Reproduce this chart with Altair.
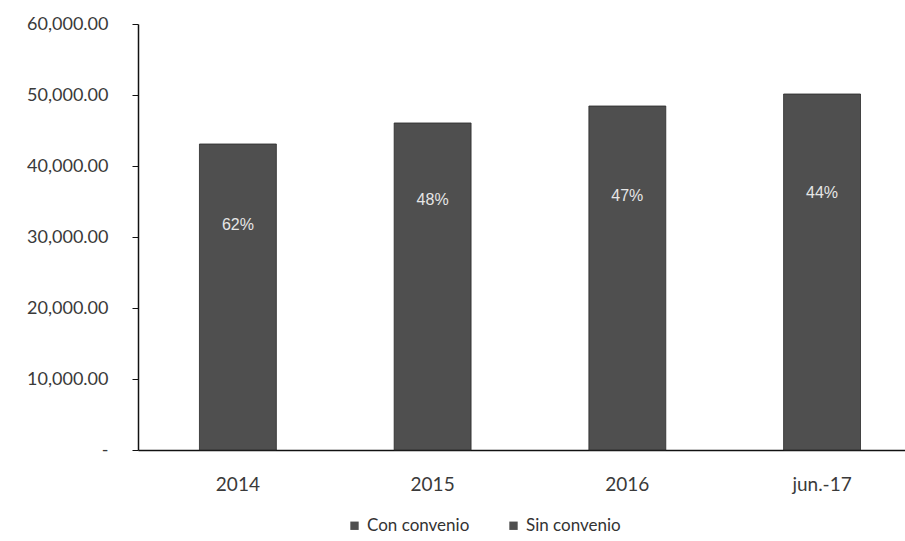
import altair as alt
import pandas as pd

years = ["2014", "2015", "2016", "jun.-17"]
con_convenio = [20280, 24360, 23090, 22260]
sin_convenio = [22820, 21700, 25360, 27880]
pct_labels = ["62%", "48%", "47%", "44%"]
series = ["Con convenio", "Sin convenio"]

rows = []
for i, y in enumerate(years):
    rows.append({"year": y, "serie": series[0], "value": con_convenio[i], "order": 0})
    rows.append({"year": y, "serie": series[1], "value": sin_convenio[i], "order": 1})
df = pd.DataFrame(rows)

lab = pd.DataFrame({
    "year": years,
    "label": pct_labels,
    "pos": [c + s / 2 for c, s in zip(con_convenio, sin_convenio)],
})

FONT = "Lato"

xscale = alt.Scale(domain=years, paddingInner=0.605, paddingOuter=0.272, align=0.58)
yscale = alt.Scale(domain=[0, 60000], nice=False)

bars = alt.Chart(df).mark_bar(strokeWidth=0).encode(
    x=alt.X("year:N", scale=xscale, sort=years,
            axis=alt.Axis(title=None, labelAngle=0, ticks=False, domainColor="#111",
                          domainWidth=1.5, labelFont=FONT, labelFontSize=19,
                          labelFontWeight="normal",
                          labelColor="#3a3a3a", labelPadding=25)),
    y=alt.Y("value:Q", stack="zero", scale=yscale,
            axis=alt.Axis(title=None, values=[0, 10000, 20000, 30000, 40000, 50000, 60000],
                          labelExpr="datum.value == 0 ? '-' : format(datum.value, ',.2f')",
                          grid=False, domainColor="#111", domainWidth=1.5,
                          tickColor="#111", tickSize=6, labelFont=FONT, labelFontSize=18,
                          labelFontWeight="normal",
                          labelColor="#3a3a3a", labelPadding=24)),
    color=alt.Color("serie:N", scale=alt.Scale(domain=series, range=["#4f4f4f", "#4f4f4f"]),
                    legend=alt.Legend(title=None, orient="none", direction="horizontal",
                                      legendX=208, legendY=493, symbolType="square",
                                      symbolSize=70, symbolStrokeWidth=0,
                                      labelFont=FONT, labelFontSize=17, labelColor="#333",
                                      columnPadding=35, symbolOffset=0, labelOffset=4)),
    order=alt.Order("order:Q"),
)

edges = alt.Chart(pd.DataFrame({"year": years, "top": [c + s for c, s in zip(con_convenio, sin_convenio)]})).mark_bar(
    fillOpacity=0, stroke="#2a2a2a", strokeWidth=0.8
).encode(
    x=alt.X("year:N", scale=xscale, sort=years),
    y=alt.Y("top:Q", scale=yscale),
)

texts = alt.Chart(lab).mark_text(color="#e6e6e6", font="Liberation Sans", fontSize=16,
                                 baseline="middle").encode(
    x=alt.X("year:N", scale=xscale, sort=years),
    y=alt.Y("pos:Q", scale=yscale),
    text="label:N",
)

chart = alt.layer(bars, edges, texts).properties(
    width=767, height=426,
    autosize=alt.AutoSizeParams(type="none"),
    padding={"left": 138, "top": 24, "right": 0, "bottom": 91},
    background="white",
).configure_view(stroke=None)

chart.save("out.html", embed_options={"renderer": "svg", "actions": False})
